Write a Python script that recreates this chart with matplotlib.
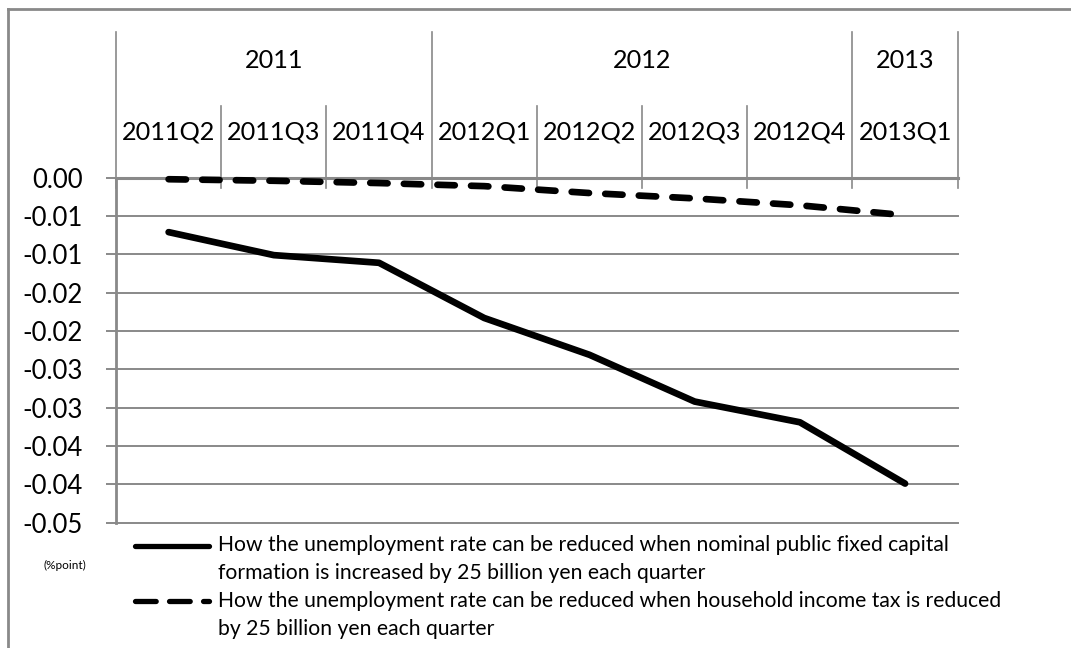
import numpy as np
import matplotlib.pyplot as plt
from matplotlib.lines import Line2D
from matplotlib.transforms import blended_transform_factory

plt.rcParams['font.family'] = ['Lato', 'DejaVu Sans']
plt.rcParams['lines.scale_dashes'] = False

# quarterly effect on the unemployment rate (%point)
quarters = ['2011Q2', '2011Q3', '2011Q4', '2012Q1', '2012Q2', '2012Q3', '2012Q4', '2013Q1']
years = ['2011', '2012', '2013']
quarters_per_year = [3, 4, 1]

public_investment = [-0.0071, -0.0101, -0.0111, -0.0183, -0.0231, -0.0292, -0.0319, -0.0399]
income_tax_cut = [-0.0002, -0.0004, -0.0007, -0.0011, -0.0020, -0.0027, -0.0036, -0.0049]

y_ticks = [0, -0.005, -0.01, -0.015, -0.02, -0.025, -0.03, -0.035, -0.04, -0.045]
y_labels = ['0.00', '-0.01', '-0.01', '-0.02', '-0.02', '-0.03', '-0.03', '-0.04', '-0.04', '-0.05']

legend_lines = [
    ['How the unemployment rate can be reduced when nominal public fixed capital',
     'formation is increased by 25 billion yen each quarter'],
    ['How the unemployment rate can be reduced when household income tax is reduced',
     'by 25 billion yen each quarter'],
]

W, H = 1071, 648
grey = '#898989'

fig = plt.figure(figsize=(W / 100, H / 100), dpi=100)
ax = fig.add_axes([116 / W, 1 - 522.7 / H, (957.7 - 116) / W, 345 / H])

x = np.arange(len(quarters))
ax.plot(x, public_investment, color='black', lw=4.8,
        solid_capstyle='round', solid_joinstyle='round', clip_on=False, zorder=5)
ax.plot(x, income_tax_cut, color='black', lw=4.8, dashes=(12.5, 11.7),
        dash_capstyle='round', clip_on=False, zorder=5)

ax.set_xlim(-0.5, len(quarters) - 0.5)
ax.set_ylim(-0.045, 0)
ax.set_yticks(y_ticks)
ax.set_yticklabels(y_labels)
ax.set_xticks([])
ax.tick_params(axis='y', length=7.2, width=1.4, color=grey, pad=16.6, labelsize=18.5)
ax.yaxis.grid(True, color=grey, lw=1.4)
for gl in ax.get_ygridlines():
    gl.set_clip_on(False)
ax.set_axisbelow(True)
for side in ['top', 'right', 'bottom']:
    ax.spines[side].set_visible(False)
ax.spines['left'].set_color(grey)
ax.spines['left'].set_linewidth(2)
ax.axhline(0, color=grey, lw=2.2, clip_on=False, zorder=2)

# category header above the plot: years on top, quarters below
tr = blended_transform_factory(ax.transData, ax.transAxes)
y_year_top = (522.7 - 32) / 345
y_q_top = (522.7 - 106) / 345
y_tick_end = (522.7 - 188) / 345

bounds = np.arange(len(quarters) + 1) - 0.5
year_bounds = np.concatenate([[0], np.cumsum(quarters_per_year)]) - 0.5
for b in bounds:
    top = y_year_top if b in year_bounds else y_q_top
    ax.add_line(Line2D([b, b], [y_tick_end, top], transform=tr, color=grey,
                       lw=1.2, clip_on=False))

for i, q in enumerate(quarters):
    ax.text(i, (522.7 - 131.7) / 345, q, transform=tr, ha='center', va='center',
            fontsize=18.2)
for i, yr in enumerate(years):
    c = (year_bounds[i] + year_bounds[i + 1]) / 2
    ax.text(c, (522.7 - 60) / 345, yr, transform=tr, ha='center', va='center',
            fontsize=18.2)

# frame around the chart area
fig.add_artist(Line2D([8 / W, 8 / W], [0, 1 - 9 / H], color=grey, lw=2))
fig.add_artist(Line2D([8 / W, 1], [1 - 9 / H, 1 - 9 / H], color=grey, lw=2))

fig.text(65 / W, 1 - 565 / H, '(%point)', ha='center', va='center', fontsize=8.5)

# legend
fig.add_artist(Line2D([134.6 / W, 209.4 / W], [1 - 546 / H] * 2, color='black', lw=3.8,
                      solid_capstyle='round'))
fig.add_artist(Line2D([134.6 / W, 209.4 / W], [1 - 601 / H] * 2, color='black', lw=3.8,
                      dashes=(14.9, 9.6), dash_capstyle='round'))
line_y = [[545, 573], [601, 629]]
for entry, ys in zip(legend_lines, line_y):
    for txt, yy in zip(entry, ys):
        fig.text(218 / W, 1 - yy / H, txt, ha='left', va='center', fontsize=15.2)

fig.savefig('out.png', dpi=100)
